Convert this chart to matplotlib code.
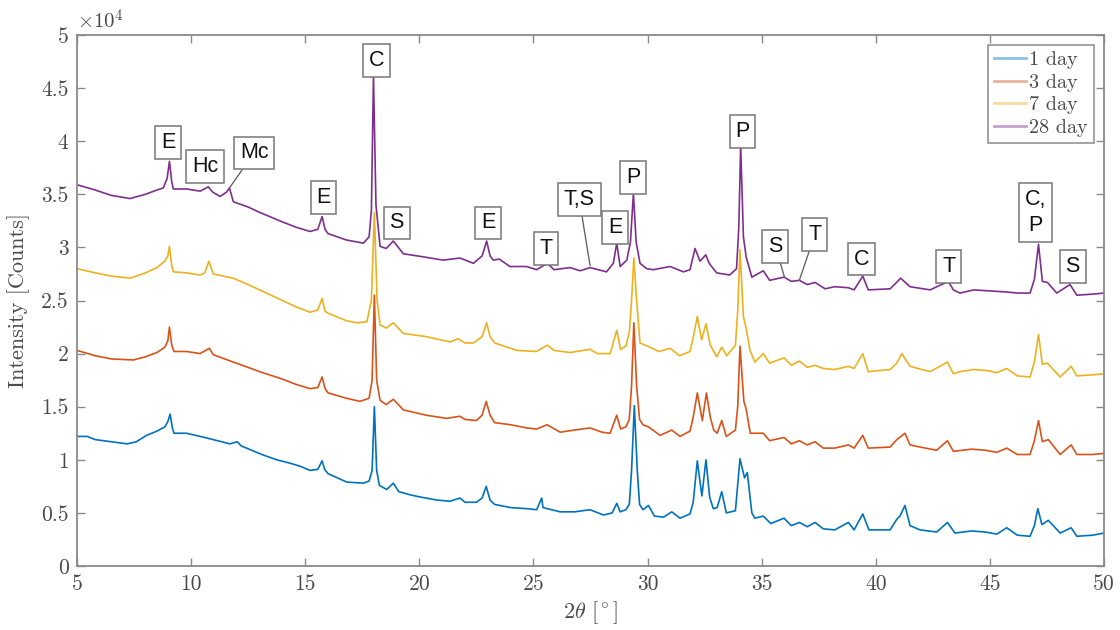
import matplotlib
matplotlib.use("Agg")
import matplotlib.pyplot as plt
from matplotlib.ticker import FuncFormatter

# ---------------- data (intensity in units of 1e4 counts) ----------------
x_1day = [5.0, 5.45, 5.8, 6.5, 7.2, 7.6, 8.05, 8.5, 8.85, 8.98, 9.08, 9.18, 9.25, 9.8, 10.4, 10.97,
          11.7, 12.02, 12.2, 12.43, 13.1, 13.75, 14.3, 14.77, 15.21, 15.55, 15.74, 15.85, 16.0, 16.82,
          17.55, 17.8, 17.93, 18.03, 18.13, 18.25, 18.57, 18.86, 19.1, 19.6, 20.03, 20.8, 21.35, 21.78,
          22.0, 22.5, 22.75, 22.93, 23.1, 23.3, 24.0, 24.7, 25.14, 25.36, 25.42, 26.17, 26.8, 27.48,
          28.07, 28.45, 28.65, 28.8, 29.05, 29.2, 29.3, 29.42, 29.55, 29.65, 29.8, 30.04, 30.3, 30.7,
          31.06, 31.42, 31.86, 32.0, 32.18, 32.38, 32.56, 32.72, 32.88, 33.05, 33.25, 33.45, 33.85,
          34.05, 34.25, 34.37, 34.57, 34.7, 35.07, 35.4, 35.98, 36.3, 36.65, 37.0, 37.34, 37.7, 38.2,
          38.8, 39.05, 39.43, 39.7, 40.63, 40.92, 41.06, 41.28, 41.5, 41.94, 42.67, 43.14, 43.47, 44.2,
          44.8, 45.3, 45.74, 46.2, 46.76, 46.95, 47.1, 47.28, 47.56, 48.08, 48.56, 48.81, 49.5, 50.0]
y_1day = [1.22, 1.22, 1.19, 1.17, 1.15, 1.17, 1.23, 1.27, 1.31, 1.36, 1.43, 1.30, 1.25, 1.25, 1.22, 1.19,
          1.15, 1.17, 1.13, 1.11, 1.05, 1.00, 0.97, 0.94, 0.90, 0.91, 0.99, 0.91, 0.87, 0.79,
          0.78, 0.80, 0.90, 1.50, 0.90, 0.76, 0.72, 0.78, 0.70, 0.67, 0.65, 0.62, 0.61, 0.64,
          0.60, 0.60, 0.64, 0.75, 0.62, 0.58, 0.55, 0.54, 0.53, 0.64, 0.55, 0.51, 0.51, 0.53,
          0.48, 0.50, 0.59, 0.51, 0.53, 0.58, 0.90, 1.51, 0.90, 0.58, 0.53, 0.57, 0.47, 0.46,
          0.51, 0.45, 0.49, 0.60, 0.99, 0.66, 1.00, 0.65, 0.54, 0.55, 0.70, 0.50, 0.52,
          1.01, 0.83, 0.88, 0.50, 0.45, 0.47, 0.40, 0.45, 0.38, 0.41, 0.37, 0.41, 0.35, 0.34,
          0.41, 0.34, 0.49, 0.34, 0.34, 0.44, 0.47, 0.57, 0.38, 0.34, 0.32, 0.41, 0.31, 0.33,
          0.32, 0.30, 0.36, 0.29, 0.28, 0.38, 0.54, 0.39, 0.43, 0.31, 0.36, 0.28, 0.29, 0.31]

x_3day = [5.0, 5.8, 6.5, 7.47, 8.0, 8.5, 8.85, 8.98, 9.05, 9.15, 9.25, 9.8, 10.39, 10.8, 10.97, 11.85,
          12.5, 13.0, 14.0, 14.6, 15.21, 15.55, 15.74, 15.87, 16.0, 16.8, 17.4, 17.8, 17.93, 18.03,
          18.13, 18.28, 18.55, 18.86, 19.3, 20.3, 21.2, 21.78, 22.0, 22.5, 22.75, 22.93, 23.1, 23.3,
          24.0, 24.7, 25.14, 25.6, 26.17, 26.8, 27.48, 28.0, 28.36, 28.65, 28.82, 29.05, 29.2, 29.3,
          29.4, 29.52, 29.65, 29.8, 30.04, 30.55, 31.06, 31.42, 31.86, 32.0, 32.18, 32.4, 32.58, 32.75,
          32.9, 33.05, 33.25, 33.45, 33.85, 33.95, 34.05, 34.22, 34.32, 34.5, 35.07, 35.35, 35.98,
          36.3, 36.65, 37.0, 37.34, 37.7, 38.2, 38.8, 39.05, 39.43, 39.67, 40.63, 40.92, 41.28, 41.5,
          41.94, 42.67, 43.14, 43.4, 44.2, 44.8, 45.3, 45.74, 46.2, 46.76, 46.95, 47.13, 47.3, 47.56,
          48.08, 48.56, 48.81, 49.5, 50.0]
y_3day = [2.03, 1.98, 1.95, 1.94, 1.97, 2.01, 2.06, 2.12, 2.25, 2.08, 2.02, 2.02, 2.00, 2.05, 1.99, 1.92,
          1.87, 1.83, 1.76, 1.71, 1.67, 1.68, 1.78, 1.67, 1.63, 1.58, 1.55, 1.58, 1.75, 2.55,
          1.75, 1.56, 1.52, 1.57, 1.47, 1.42, 1.39, 1.41, 1.38, 1.37, 1.42, 1.55, 1.42, 1.35,
          1.33, 1.30, 1.29, 1.33, 1.26, 1.28, 1.30, 1.26, 1.25, 1.42, 1.29, 1.31, 1.38, 1.70,
          2.29, 1.70, 1.38, 1.33, 1.31, 1.23, 1.28, 1.22, 1.27, 1.40, 1.63, 1.37, 1.63, 1.40,
          1.28, 1.25, 1.37, 1.22, 1.28, 1.50, 2.07, 1.55, 1.48, 1.25, 1.25, 1.18, 1.21,
          1.15, 1.18, 1.14, 1.17, 1.11, 1.11, 1.14, 1.11, 1.23, 1.11, 1.12, 1.19, 1.25, 1.14,
          1.12, 1.09, 1.18, 1.08, 1.10, 1.09, 1.07, 1.11, 1.05, 1.05, 1.18, 1.37, 1.17, 1.19,
          1.05, 1.14, 1.05, 1.05, 1.06]

x_7day = [5.0, 5.8, 6.5, 7.32, 8.0, 8.5, 8.85, 8.98, 9.05, 9.15, 9.22, 9.8, 10.39, 10.6, 10.78, 10.97,
          11.85, 12.5, 13.0, 14.0, 14.6, 15.21, 15.55, 15.74, 15.87, 16.0, 16.8, 17.26, 17.7, 17.9,
          18.03, 18.15, 18.28, 18.55, 18.86, 19.3, 20.3, 21.35, 21.7, 22.0, 22.37, 22.75, 22.95, 23.1,
          23.3, 24.27, 25.14, 25.61, 25.9, 26.6, 27.48, 27.8, 28.36, 28.65, 28.82, 29.05, 29.2, 29.3,
          29.4, 29.52, 29.67, 30.0, 30.5, 30.99, 31.4, 31.86, 32.0, 32.18, 32.37, 32.56, 32.75, 33.03,
          33.25, 33.47, 33.85, 33.95, 34.05, 34.2, 34.32, 34.49, 34.7, 35.07, 35.35, 35.98, 36.3,
          36.65, 37.0, 37.34, 37.7, 38.2, 38.8, 39.05, 39.43, 39.67, 40.63, 40.92, 41.14, 41.5, 42.38,
          43.14, 43.4, 43.69, 44.3, 44.9, 45.3, 45.74, 46.2, 46.76, 46.95, 47.13, 47.3, 47.52, 48.08,
          48.56, 48.81, 49.5, 50.0]
y_7day = [2.80, 2.76, 2.73, 2.71, 2.76, 2.81, 2.87, 2.92, 3.01, 2.83, 2.77, 2.76, 2.74, 2.76, 2.87, 2.75,
          2.71, 2.65, 2.60, 2.50, 2.44, 2.39, 2.41, 2.52, 2.40, 2.38, 2.31, 2.29, 2.30, 2.50,
          3.33, 2.50, 2.27, 2.24, 2.29, 2.19, 2.16, 2.11, 2.14, 2.10, 2.10, 2.16, 2.29, 2.16,
          2.10, 2.03, 2.02, 2.08, 2.03, 2.01, 2.04, 2.00, 2.00, 2.22, 2.04, 2.07, 2.20, 2.50,
          2.90, 2.50, 2.10, 2.07, 2.02, 2.05, 1.98, 2.02, 2.15, 2.35, 2.13, 2.28, 2.08, 1.97,
          2.06, 1.98, 2.08, 2.40, 2.98, 2.35, 2.24, 2.03, 1.92, 2.00, 1.91, 1.96, 1.89,
          1.93, 1.87, 1.89, 1.86, 1.85, 1.88, 1.86, 2.00, 1.83, 1.85, 1.91, 2.00, 1.88, 1.83,
          1.92, 1.81, 1.83, 1.85, 1.84, 1.82, 1.86, 1.79, 1.78, 1.92, 2.18, 1.90, 1.91, 1.78,
          1.88, 1.79, 1.80, 1.81]

x_28day = [5.0, 5.8, 6.5, 7.32, 8.0, 8.5, 8.78, 8.95, 9.05, 9.15, 9.22, 9.8, 10.4, 10.75, 10.95, 11.27,
           11.55, 11.68, 11.85, 12.5, 13.0, 14.0, 14.6, 15.21, 15.55, 15.74, 15.87, 16.0, 16.8, 17.55,
           17.8, 17.9, 17.99, 18.1, 18.28, 18.55, 18.86, 19.3, 20.2, 21.05, 21.78, 22.37, 22.75, 22.95,
           23.1, 23.24, 23.5, 23.97, 24.7, 25.14, 25.61, 25.9, 26.6, 27.05, 27.48, 28.2, 28.5, 28.65,
           28.8, 29.09, 29.25, 29.38, 29.5, 29.67, 29.96, 30.25, 30.99, 31.57, 31.86, 32.08, 32.3,
           32.55, 32.7, 33.03, 33.6, 33.9, 34.0, 34.08, 34.2, 34.32, 34.57, 35.07, 35.35, 35.98, 36.3,
           36.65, 37.0, 37.34, 37.78, 38.2, 38.8, 39.05, 39.43, 39.67, 40.63, 41.09, 41.5, 42.38, 43.18,
           43.4, 43.69, 44.3, 45.0, 45.74, 46.2, 46.76, 46.95, 47.13, 47.3, 47.52, 47.93, 48.51, 48.81,
           49.5, 50.0]
y_28day = [3.59, 3.54, 3.49, 3.46, 3.50, 3.54, 3.56, 3.65, 3.81, 3.62, 3.55, 3.55, 3.53, 3.57, 3.52, 3.48,
           3.52, 3.56, 3.43, 3.38, 3.33, 3.24, 3.19, 3.15, 3.17, 3.29, 3.17, 3.13, 3.07, 3.04,
           3.10, 3.35, 4.62, 3.40, 3.01, 2.99, 3.06, 2.94, 2.91, 2.88, 2.90, 2.85, 2.92, 3.06,
           2.92, 2.88, 2.89, 2.82, 2.82, 2.79, 2.85, 2.79, 2.81, 2.78, 2.81, 2.77, 2.85, 3.04,
           2.82, 2.88, 3.05, 3.51, 3.05, 2.85, 2.80, 2.79, 2.82, 2.77, 2.79, 2.99, 2.87,
           2.93, 2.85, 2.76, 2.74, 2.80, 3.20, 3.96, 3.10, 2.91, 2.72, 2.78, 2.69, 2.72, 2.68,
           2.69, 2.65, 2.67, 2.61, 2.63, 2.62, 2.60, 2.73, 2.60, 2.61, 2.71, 2.63, 2.60, 2.68,
           2.60, 2.57, 2.60, 2.59, 2.58, 2.57, 2.57, 2.70, 3.03, 2.68, 2.67, 2.57, 2.65, 2.55,
           2.56, 2.57]

series_labels = ["1 day", "3 day", "7 day", "28 day"]

# peak annotations: text, box centre (x, y), optional leader-line end point
ann_text = ["E", "Hc", "Mc", "E", "C", "S", "E", "T", "T,S", "E", "P", "P", "S", "T", "C", "T", "C,\nP", "S"]
ann_x = [8.99, 10.61, 12.76, 15.80, 18.13, 19.00, 23.01, 25.55, 27.01, 28.58, 29.37, 34.16, 35.60, 37.33,
         39.38, 43.20, 47.01, 48.63]
ann_y = [3.99, 3.76, 3.89, 3.47, 4.76, 3.23, 3.23, 2.99, 3.45, 3.19, 3.66, 4.09, 3.01, 3.12, 2.89, 2.82,
         3.33, 2.82]
lead_x = [None, None, 11.68, None, None, None, None, None, 27.48, None, None, None, 36.0, 36.65, None, None,
          None, None]
lead_y = [None, None, 3.56, None, None, None, None, None, 2.83, None, None, None, 2.72, 2.69, None, None,
          None, None]

xticks = [5, 10, 15, 20, 25, 30, 35, 40, 45, 50]
yticks = [0, 0.5, 1, 1.5, 2, 2.5, 3, 3.5, 4, 4.5, 5]

colors = ["#0072BD", "#D95319", "#EDB120", "#7E2F8E"]

# ---------------- figure ----------------
plt.rcParams["mathtext.fontset"] = "cm"
plt.rcParams["font.family"] = ["cmr10", "DejaVu Serif"]
plt.rcParams["axes.formatter.use_mathtext"] = True
plt.rcParams["axes.unicode_minus"] = False

fig = plt.figure(figsize=(11.2, 6.3), dpi=100)
ax = fig.add_axes([77 / 1120, 1 - 566 / 630, (1104 - 77) / 1120, (566 - 35) / 630])

xs = [x_1day, x_3day, x_7day, x_28day]
ys = [y_1day, y_3day, y_7day, y_28day]
for xv, yv, c, lab in zip(xs, ys, colors, series_labels):
    ax.plot(xv, yv, color=c, lw=1.2, label=lab, solid_joinstyle="round")

ax.set_xlim(5, 50)
ax.set_ylim(0, 5)
ax.set_xticks(xticks)
ax.set_yticks(yticks)
ax.yaxis.set_major_formatter(FuncFormatter(lambda v, p: ("%g" % v)))
ax.xaxis.set_major_formatter(FuncFormatter(lambda v, p: ("%g" % v)))

axcol = "#4a4a4a"
for s in ax.spines.values():
    s.set_color("#8a8a8a")
    s.set_linewidth(1.3)
ax.tick_params(direction="in", length=6, width=1.0, colors="#8a8a8a", labelcolor=axcol,
               labelsize=15.5, top=True, right=True, pad=6)

ax.set_xlabel(r"$2\theta\ [^\circ]$", fontsize=16, color=axcol, labelpad=4)
ax.set_ylabel("Intensity [Counts]", fontsize=16, color=axcol, labelpad=8)
ax.text(0.0, 1.005, r"$\times 10^4$", transform=ax.transAxes, fontsize=15, color=axcol,
        ha="left", va="bottom")

box_style = dict(boxstyle="square,pad=0.27", fc="white", ec="#777777", lw=1.1)
for t, bx, by, lx, ly in zip(ann_text, ann_x, ann_y, lead_x, lead_y):
    if lx is not None:
        ax.annotate(t, xy=(lx, ly), xytext=(bx, by), ha="center", va="center",
                    fontsize=15.5, family=["Liberation Sans", "DejaVu Sans"], color="#111111",
                    linespacing=1.35, bbox=box_style,
                    arrowprops=dict(arrowstyle="-", color="#666666", lw=1.0, shrinkA=0, shrinkB=0),
                    zorder=5)
    else:
        ax.text(bx, by, t, ha="center", va="center", fontsize=15.5,
                family=["Liberation Sans", "DejaVu Sans"], color="#111111", linespacing=1.35,
                bbox=box_style, zorder=5)

leg = ax.legend(loc="upper right", fontsize=14.5, frameon=True, fancybox=False, edgecolor="#8a8a8a",
                framealpha=1, borderaxespad=0.5, handlelength=1.6, handletextpad=0.15,
                labelspacing=0.22, borderpad=0.3)
leg.get_frame().set_linewidth(1.1)
for h in leg.get_lines():
    h.set_alpha(0.45)
    h.set_linewidth(2.0)
for txt in leg.get_texts():
    txt.set_color(axcol)

fig.savefig("out.png", dpi=100)
